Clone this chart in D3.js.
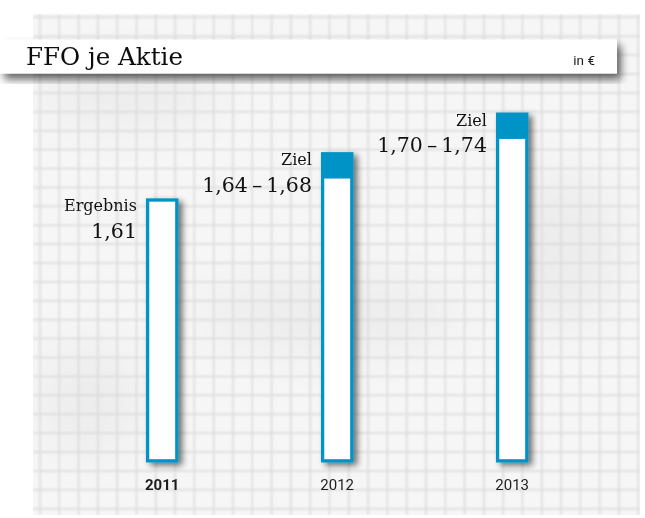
<!DOCTYPE html>
<html lang="de">
<head>
<meta charset="utf-8">
<title>FFO je Aktie</title>
<script src="https://cdn.jsdelivr.net/npm/d3@7/dist/d3.min.js"></script>
<style>
  html, body { margin: 0; padding: 0; background: #ffffff; }
  svg { display: block; }
</style>
</head>
<body>
<div id="chart"></div>
<script>
// FFO per share: reported result for 2011, target ranges for 2012 and 2013
const years = ["2011", "2012", "2013"];
const lowValues = [1.61, 1.64, 1.70];
const highValues = [1.61, 1.68, 1.74];
const statusLabels = ["Ergebnis", "Ziel", "Ziel"];
const titleText = "FFO je Aktie";
const unitText = "in €";

const W = 645, H = 518;
const BLUE = "#0094c6";
const SERIF = "'DejaVu Serif', serif";
const SANS = "Roboto, 'Liberation Sans', sans-serif";

const de = d3.formatLocale({ decimal: ",", thousands: ".", grouping: [3], currency: ["", " €"] });
const fmt = de.format(".2f");

const rows = years.map((year, i) => ({
  year,
  low: lowValues[i],
  high: highValues[i],
  status: statusLabels[i],
  isRange: highValues[i] !== lowValues[i]
}));

const svg = d3.select("#chart").append("svg")
  .attr("width", W).attr("height", H)
  .attr("viewBox", `0 0 ${W} ${H}`);

const defs = svg.append("defs");

defs.append("filter").attr("id", "soften")
  .attr("x", "-5%").attr("y", "-5%").attr("width", "110%").attr("height", "110%")
  .append("feGaussianBlur").attr("stdDeviation", 0.9);

defs.append("filter").attr("id", "blotch")
  .attr("x", "-50%").attr("y", "-50%").attr("width", "200%").attr("height", "200%")
  .append("feGaussianBlur").attr("stdDeviation", 22);

function dropShadow(id, dx, dy, blur, opacity) {
  const f = defs.append("filter").attr("id", id)
    .attr("x", "-30%").attr("y", "-30%").attr("width", "160%").attr("height", "160%");
  f.append("feGaussianBlur").attr("in", "SourceAlpha").attr("stdDeviation", blur).attr("result", "b");
  f.append("feOffset").attr("in", "b").attr("dx", dx).attr("dy", dy).attr("result", "o");
  f.append("feComponentTransfer").attr("in", "o").attr("result", "s")
    .append("feFuncA").attr("type", "linear").attr("slope", opacity);
  const m = f.append("feMerge");
  m.append("feMergeNode").attr("in", "s");
  m.append("feMergeNode").attr("in", "SourceGraphic");
}
dropShadow("barShadow", 4, 3, 3, 0.55);
dropShadow("boxShadow", 4, 6, 4, 0.6);

// ---- graph paper backdrop ----
const paper = { x: 33, y: 14, w: 607, h: 501 };
defs.append("clipPath").attr("id", "paperClip")
  .append("rect").attr("x", paper.x).attr("y", paper.y).attr("width", paper.w).attr("height", paper.h);

svg.append("rect")
  .attr("x", paper.x).attr("y", paper.y).attr("width", paper.w).attr("height", paper.h)
  .attr("fill", "#f6f6f6");

const paperG = svg.append("g").attr("clip-path", "url(#paperClip)");

// faint uneven shading of the paper
const blotches = [
  { cx: 130, cy: 95, rx: 90, ry: 35 },
  { cx: 330, cy: 315, rx: 130, ry: 40 },
  { cx: 560, cy: 250, rx: 60, ry: 80 },
  { cx: 90, cy: 400, rx: 50, ry: 60 }
];
paperG.append("g").attr("filter", "url(#blotch)")
  .selectAll("ellipse").data(blotches).join("ellipse")
  .attr("cx", d => d.cx).attr("cy", d => d.cy)
  .attr("rx", d => d.rx).attr("ry", d => d.ry)
  .attr("fill", "#000").attr("opacity", 0.035);

const gridX = d3.range(40, paper.x + paper.w + 1, 19.3);
const gridY = d3.range(263 - 18.9 * 13, paper.y + paper.h + 1, 18.9);
const grid = paperG.append("g").attr("filter", "url(#soften)")
  .attr("stroke", "#d9d9d9").attr("stroke-width", 1.5);
grid.selectAll("line.v").data(gridX).join("line").attr("class", "v")
  .attr("x1", d => d).attr("x2", d => d)
  .attr("y1", paper.y).attr("y2", paper.y + paper.h);
grid.selectAll("line.h").data(gridY).join("line").attr("class", "h")
  .attr("x1", paper.x).attr("x2", paper.x + paper.w)
  .attr("y1", d => d).attr("y2", d => d);

// ---- scales ----
const x = d3.scalePoint().domain(years).range([162.2, 512.2]);
const y = d3.scaleLinear().domain([1.21, 1.74]).range([462.5, 112.5]);
const barW = 32.5;
const edge = 3.3;

function fitWidth(sel, target) {
  const w = sel.node().getComputedTextLength();
  if (Math.abs(w - target) > 1.5) {
    sel.attr("textLength", target).attr("lengthAdjust", "spacingAndGlyphs");
  }
}

// ---- bars ----
const bars = svg.append("g").selectAll("g.bar").data(rows).join("g").attr("class", "bar");

bars.each(function (d) {
  const g = d3.select(this);
  const x0 = x(d.year) - barW / 2;
  const top = y(d.high);
  const bottom = y.range()[0];
  const box = g.append("g").attr("filter", "url(#barShadow)");
  box.append("rect")
    .attr("x", x0).attr("y", top)
    .attr("width", barW).attr("height", bottom - top)
    .attr("fill", BLUE);
  const innerTop = d.isRange ? y(d.low) : top + edge;
  box.append("rect")
    .attr("x", x0 + edge).attr("y", innerTop)
    .attr("width", barW - 2 * edge).attr("height", bottom - edge - innerTop)
    .attr("fill", "#ffffff");

  const lx = x0 - 9;
  g.append("text")
    .attr("x", lx).attr("y", top + 13)
    .attr("text-anchor", "end")
    .attr("font-family", SERIF).attr("font-size", 16)
    .attr("fill", "#111")
    .text(d.status);

  const valueText = d.isRange
    ? `${fmt(d.low)}\u2009\u2013\u2009${fmt(d.high)}`
    : fmt(d.high);
  g.append("text")
    .attr("x", lx).attr("y", top + 39.5)
    .attr("text-anchor", "end")
    .attr("font-family", SERIF).attr("font-size", 20.5)
    .attr("fill", "#111")
    .text(valueText);

  g.append("text")
    .attr("x", x(d.year)).attr("y", 490)
    .attr("text-anchor", "middle")
    .attr("font-family", SANS).attr("font-size", 15)
    .attr("font-weight", d.isRange ? 400 : 700)
    .attr("fill", "#1e1e1e")
    .text(d.year);
});

// ---- title strip ----
const head = svg.append("g");
head.append("rect")
  .attr("x", 0).attr("y", 39.5).attr("width", 617).attr("height", 34)
  .attr("fill", "#ffffff")
  .attr("filter", "url(#boxShadow)");
const title = head.append("text")
  .attr("x", 26).attr("y", 65)
  .attr("font-family", SERIF).attr("font-size", 23.5)
  .attr("fill", "#0d0d0d")
  .text(titleText);
fitWidth(title, 157);
head.append("text")
  .attr("x", 595).attr("y", 65)
  .attr("text-anchor", "end")
  .attr("font-family", SANS).attr("font-size", 13.5)
  .attr("fill", "#1a1a1a")
  .text(unitText);
</script>
</body>
</html>
